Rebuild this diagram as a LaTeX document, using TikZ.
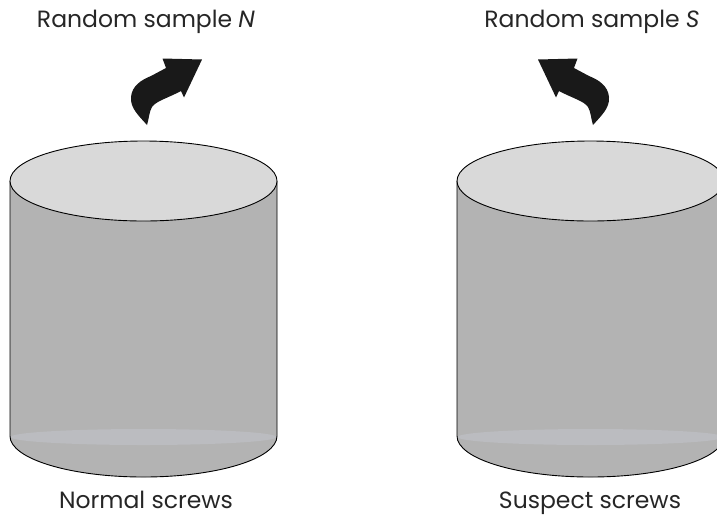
\documentclass[tikz,border=0pt]{standalone}
\usepackage{fontspec}
\setmainfont{Poppins}
\begin{document}
\begin{tikzpicture}[x=1pt,y=-1pt,
  label/.style={font=\fontsize{23.5}{28}\selectfont, text=black!85, inner sep=0pt, anchor=base},
  side/.style={fill=cylside},
  rim/.style={draw=black, line width=0.9pt},
  lid/.style={fill=cyltop, draw=black, line width=0.9pt},
  band/.style={fill=cylband},
  bigarrow/.style={fill=black!90, draw=none}]
\definecolor{cylside}{HTML}{B3B3B3}
\definecolor{cyltop}{HTML}{D9D9D9}
\definecolor{cylband}{HTML}{BBBCC0}
\useasboundingbox (0,0) rectangle (717,523);
\begin{scope}
\clip (0,0) rectangle (717,523);
% one cylinder per centre x
\foreach \cx in {143.5,590.5} {
  \fill[side] (\cx-133.5,181) -- (\cx-133.5,436)
     arc[start angle=180, end angle=360, x radius=133.5, y radius=-41]
     -- (\cx+133.5,181) -- cycle;
  \fill[band] (\cx,437) ellipse[x radius=133, y radius=8];
  \draw[rim] (\cx-133.5,181) -- (\cx-133.5,436)
     arc[start angle=180, end angle=360, x radius=133.5, y radius=-41]
     -- (\cx+133.5,181);
  \draw[lid] (\cx,181) ellipse[x radius=133.5, y radius=40];
}
\end{scope}
% curved block arrows
\def\bentarrow{(147,125) .. controls (139,116) and (130,108) .. (131,97)
  .. controls (132,86) and (141,80) .. (151,76) -- (166,68) -- (162.5,58.5)
  -- (202,59.5) -- (184,97.5) -- (181,91)
  .. controls (168,98) and (156,101) .. (152,107)
  .. controls (149,112) and (149,119) .. (147,125) -- cycle}
\fill[bigarrow] \bentarrow;
\begin{scope}[xshift=740pt, xscale=-1]
\fill[bigarrow] \bentarrow;
\end{scope}
\node[label] (sampleN) at (146,27) {Random sample \textit{N}};
\node[label] (sampleS) at (592,27) {Random sample \textit{S}};
\node[label] (normal) at (146,508) {Normal screws};
\node[label] (suspect) at (590,508) {Suspect screws};
\end{tikzpicture}
\end{document}
